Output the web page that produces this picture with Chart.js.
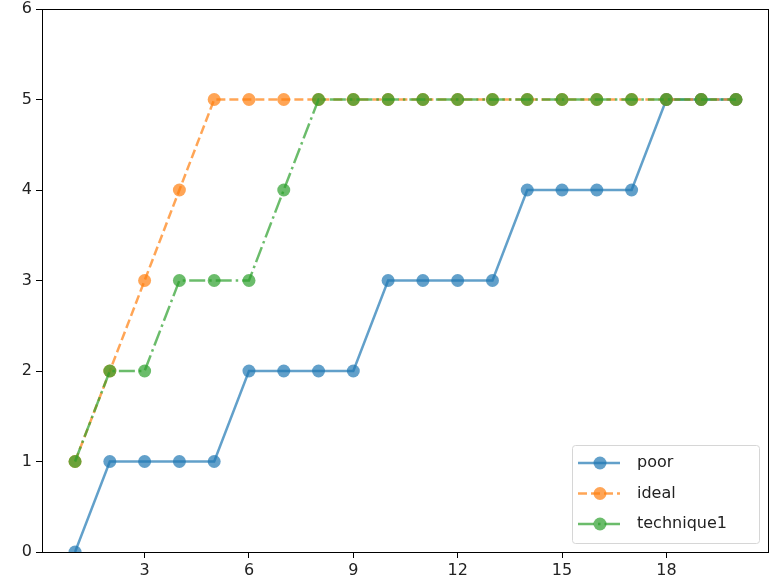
<!DOCTYPE html>
<html>
<head>
    <title>Step progress</title>
    <style>
        html, body { margin: 0; padding: 0; background: #fff; overflow: hidden; }
        canvas { display: block; }
    </style>
</head>
<body>
    <canvas id="progressChart" width="769" height="588"></canvas>

    <script src="https://cdn.jsdelivr.net/npm/chart.js"></script>
    <script>
        const steps = [1, 2, 3, 4, 5, 6, 7, 8, 9, 10, 11, 12, 13, 14, 15, 16, 17, 18, 19, 20];
        const poor = [0, 1, 1, 1, 1, 2, 2, 2, 2, 3, 3, 3, 3, 4, 4, 4, 4, 5, 5, 5];
        const ideal = [1, 2, 3, 4, 5, 5, 5, 5, 5, 5, 5, 5, 5, 5, 5, 5, 5, 5, 5, 5];
        const technique1 = [1, 2, 2, 3, 3, 3, 4, 5, 5, 5, 5, 5, 5, 5, 5, 5, 5, 5, 5, 5];
        const xTicks = [3, 6, 9, 12, 15, 18];
        const seriesNames = ['poor', 'ideal', 'technique1'];

        const fontFamily = '"DejaVu Sans", sans-serif';

        function points(ys) {
            return steps.map((x, i) => ({ x: x, y: ys[i] }));
        }

        function series(label, ys, rgb, dash, order) {
            return {
                label: label,
                data: points(ys),
                borderColor: `rgba(${rgb}, 0.7)`,
                backgroundColor: `rgba(${rgb}, 0.7)`,
                pointBackgroundColor: `rgba(${rgb}, 0.7)`,
                pointBorderColor: `rgba(${rgb}, 0.7)`,
                borderWidth: 2.5,
                borderDash: dash,
                pointRadius: 6.5,
                pointBorderWidth: 0,
                tension: 0,
                order: order
            };
        }

        // box around the plot area plus a legend in the lower right corner
        const framePlugin = {
            id: 'frame',
            afterDatasetsDraw(chart) {
                const ctx = chart.ctx;
                const a = chart.chartArea;
                const right = Math.min(Math.round(a.right), chart.width) - 0.5;
                ctx.save();
                ctx.strokeStyle = '#000';
                ctx.lineWidth = 1;
                ctx.strokeRect(Math.round(a.left) + 0.5, Math.round(a.top) + 0.5,
                    right - Math.round(a.left) - 0.5, Math.round(a.bottom - a.top));

                const w = 187, h = 98;
                const x0 = Math.round(right) - 10 - w, y0 = a.bottom - 9 - h;
                ctx.fillStyle = 'rgba(255,255,255,0.8)';
                ctx.strokeStyle = '#d6d6d6';
                ctx.beginPath();
                ctx.roundRect(x0 + 0.5, y0 + 0.5, w, h, 3);
                ctx.fill();
                ctx.stroke();

                ctx.font = '16px ' + fontFamily;
                ctx.textBaseline = 'middle';
                seriesNames.forEach((name, i) => {
                    const ds = chart.data.datasets.find(d => d.label === name);
                    const cy = y0 + 18 + i * 30.5;
                    ctx.strokeStyle = ds.borderColor;
                    ctx.lineWidth = ds.borderWidth;
                    ctx.setLineDash(ds.borderDash || []);
                    ctx.beginPath();
                    ctx.moveTo(x0 + 6, cy);
                    ctx.lineTo(x0 + 48, cy);
                    ctx.stroke();
                    ctx.setLineDash([]);
                    ctx.fillStyle = ds.pointBackgroundColor;
                    ctx.beginPath();
                    ctx.arc(x0 + 28, cy, 6.5, 0, Math.PI * 2);
                    ctx.fill();
                    ctx.fillStyle = '#222';
                    ctx.fillText(name, x0 + 65, cy);
                });
                ctx.restore();
            }
        };

        const chart = new Chart(document.getElementById('progressChart'), {
            type: 'line',
            data: {
                datasets: [
                    series('poor', poor, '31, 119, 180', [], 3),
                    series('ideal', ideal, '255, 127, 14', [9, 4], 2),
                    series('technique1', technique1, '44, 160, 44', [16, 4, 2.5, 4], 1)
                ]
            },
            options: {
                responsive: false,
                animation: false,
                layout: { autoPadding: false, padding: { top: 9, right: 0, left: 0, bottom: 0 } },
                plugins: {
                    legend: { display: false },
                    tooltip: { enabled: false }
                },
                scales: {
                    x: {
                        type: 'linear',
                        min: 0.05,
                        max: 20.95,
                        afterBuildTicks(axis) {
                            axis.ticks = xTicks.map(v => ({ value: v }));
                        },
                        afterFit(axis) {
                            axis.height = 36;
                            axis.paddingLeft = 0;
                            axis.paddingRight = 0;
                        },
                        grid: { drawOnChartArea: false, drawTicks: true, tickLength: 6, color: '#000' },
                        border: { display: false },
                        ticks: {
                            color: '#222',
                            padding: 3,
                            maxRotation: 0,
                            font: { family: fontFamily, size: 16 }
                        }
                    },
                    y: {
                        min: 0,
                        max: 6,
                        afterFit(axis) {
                            axis.width = 42;
                            axis.paddingTop = 0;
                            axis.paddingBottom = 0;
                        },
                        grid: { drawOnChartArea: false, drawTicks: true, tickLength: 6, color: '#000' },
                        border: { display: false },
                        ticks: {
                            stepSize: 1,
                            color: '#222',
                            padding: 4,
                            font: { family: fontFamily, size: 16 }
                        }
                    }
                }
            },
            plugins: [framePlugin]
        });
    </script>
</body>
</html>
